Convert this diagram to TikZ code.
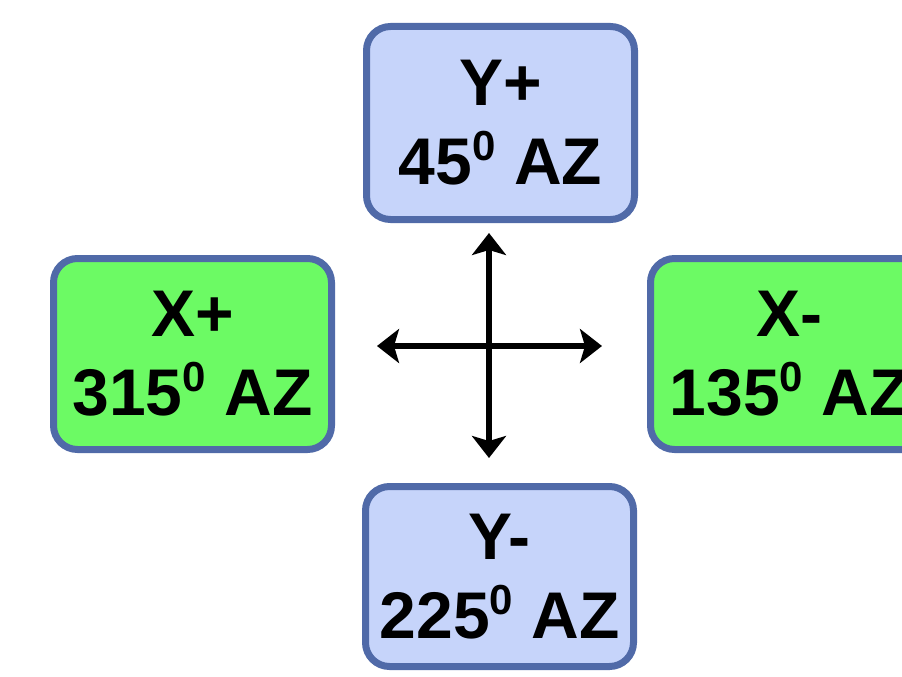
\documentclass[tikz,border=0pt]{standalone}
\usepackage{fontspec}
\setmainfont{Liberation Sans}
\usetikzlibrary{arrows.meta}
\definecolor{bluefill}{RGB}{198,212,250}
\definecolor{greenfill}{RGB}{108,250,100}
\definecolor{boxborder}{RGB}{80,106,168}
\newcommand{\degsup}{\raisebox{24pt}{\fontsize{42}{42}\selectfont 0}}
\tikzset{
  azbox/.style={draw=boxborder, line width=7pt, rounded corners=24pt, align=center,
    inner sep=0pt, font=\fontsize{66}{79}\selectfont\bfseries},
  bluebox/.style={azbox, fill=bluefill},
  greenbox/.style={azbox, fill=greenfill},
  axisarrow/.style={line width=6pt, {Stealth[length=22pt,width=34pt,inset=5pt]}-{Stealth[length=22pt,width=34pt,inset=5pt]}}
}
\begin{document}
\begin{tikzpicture}[x=1pt,y=-1pt]
\useasboundingbox (0,0) rectangle (902,677);
\fill[white] (0,0) rectangle (902,677);
\clip (0,0) rectangle (902,677);
\node[bluebox, minimum width=268pt, minimum height=193pt] (yp) at (500.5,123) {Y+\\45\degsup\ AZ};
\node[greenbox, minimum width=278pt, minimum height=191pt] (xp) at (192.5,354) {X+\\315\degsup\ AZ};
\node[greenbox, minimum width=278pt, minimum height=191pt] (xm) at (789.5,354) {X-\\135\degsup\ AZ};
\node[bluebox, minimum width=268pt, minimum height=180pt] (ym) at (499.5,576.5) {Y-\\225\degsup\ AZ};
\coordinate (top) at (489,233);
\coordinate (bot) at (489,458);
\coordinate (lft) at (377,346);
\coordinate (rgt) at (602,346);
\draw[axisarrow] (top) -- (bot);
\draw[axisarrow] (lft) -- (rgt);
\end{tikzpicture}
\end{document}
